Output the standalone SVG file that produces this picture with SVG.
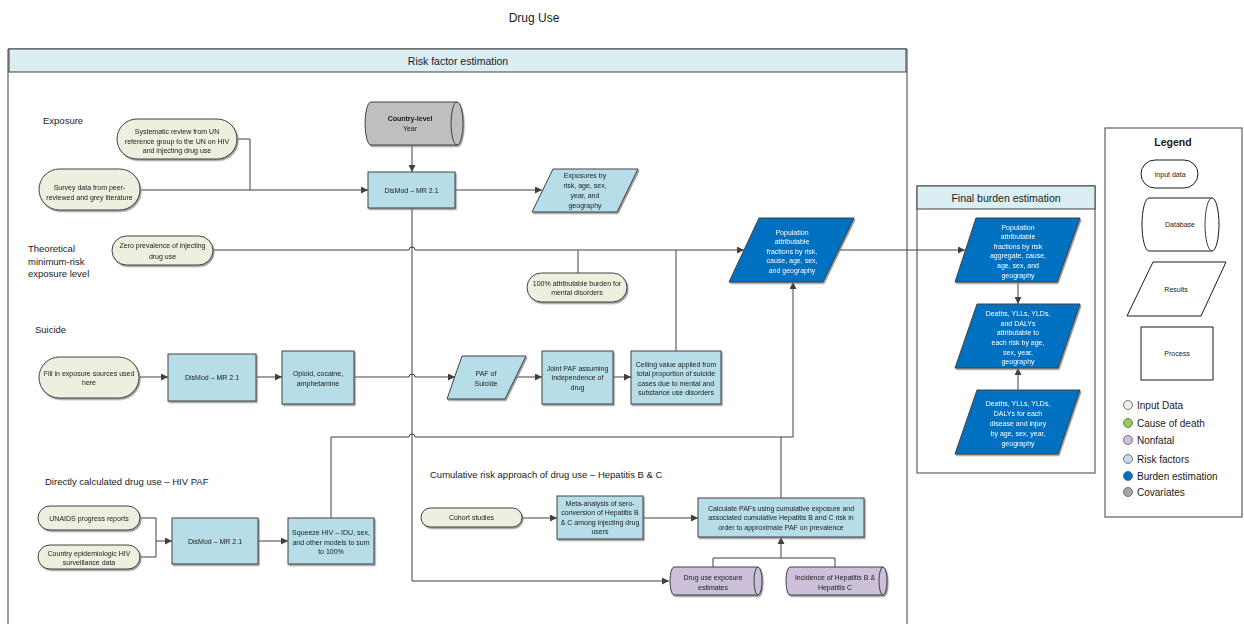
<svg xmlns="http://www.w3.org/2000/svg" width="1244" height="624" viewBox="0 0 1244 624">
  <style>
    .t { font-family: "Liberation Sans", Arial, sans-serif; font-size: 7px; text-anchor: middle; fill: #1a1a1a; }
    .tw { fill: #ffffff; }
    .b { font-weight: bold; }
    .lbl { font-family: "Liberation Sans", Arial, sans-serif; font-size: 9.5px; fill: #1a1a1a; }
    .hdr { font-family: "Liberation Sans", Arial, sans-serif; font-size: 10.5px; text-anchor: middle; fill: #1a1a1a; }
    .inp { fill: #ebf1de; stroke: #404040; stroke-width: 1; }
    .proc { fill: #b7dee8; stroke: #404040; stroke-width: 1; }
    .dark { fill: #0070c0; stroke: #404040; stroke-width: 1; }
    .gray { fill: #bfbfbf; stroke: #404040; stroke-width: 1; }
    .purp { fill: #ccc0da; stroke: #404040; stroke-width: 1; }
    .plain { fill: #ffffff; stroke: #1a1a1a; stroke-width: 1; }
    .conn { fill: none; stroke: #404040; stroke-width: 1; }
    .arr { marker-end: url(#ah); }
    .frame { fill: none; stroke: #404040; stroke-width: 1; }
    .band { fill: #daeef3; stroke: #404040; stroke-width: 1; }
  </style>
  <defs>
    <marker id="ah" markerUnits="userSpaceOnUse" markerWidth="8" markerHeight="7" refX="7" refY="3.5" orient="auto">
      <path d="M0,0 L7,3.5 L0,7 z" fill="#404040"/>
    </marker>
    <filter id="sh" x="-10%" y="-10%" width="130%" height="140%">
      <feDropShadow dx="1.2" dy="1.5" stdDeviation="0.5" flood-color="#808080" flood-opacity="0.8"/>
    </filter>
  </defs>

  <rect width="1244" height="624" fill="#ffffff"/>

  <!-- title -->
  <text x="534" y="22" font-family="Liberation Sans, Arial, sans-serif" font-size="12" text-anchor="middle" fill="#1a1a1a">Drug Use</text>

  <!-- risk factor estimation container -->
  <g id="risk-container">
    <path class="frame" d="M8,624 V49 H907 V624"/>
    <rect class="band" x="9" y="49" width="897" height="23"/>
    <text class="hdr" x="458" y="64.5">Risk factor estimation</text>
    <text class="lbl" x="43" y="123.5">Exposure</text>
    <text class="lbl" x="28" y="252">Theoretical</text>
    <text class="lbl" x="28" y="264.5">minimum-risk</text>
    <text class="lbl" x="28" y="277">exposure level</text>
    <text class="lbl" x="35" y="333">Suicide</text>
    <text class="lbl" x="45" y="485">Directly calculated drug use – HIV PAF</text>
    <text class="lbl" x="430" y="478">Cumulative risk approach of drug use – Hepatitis B &amp; C</text>
  </g>

  <!-- final burden container -->
  <g id="burden-container">
    <rect class="frame" x="917" y="186" width="178" height="287"/>
    <rect class="band" x="917" y="186" width="178" height="23"/>
    <text class="hdr" x="1006" y="202" font-size="11">Final burden estimation</text>
  </g>

  <!-- connectors -->
  <g id="connectors">
    <!-- exposure inputs into DisMod -->
    <path class="conn" d="M237,139 H250 V190"/>
    <path class="conn arr" d="M140,190 H368"/>
    <path class="conn arr" d="M412,145 V172"/>
    <path class="conn arr" d="M455,190 H542"/>
    <!-- DisMod output down to drug use exposure estimates -->
    <path class="conn arr" d="M412,208 V581 H669"/>
    <!-- theoretical minimum line into PAF -->
    <path class="conn arr" d="M213,250 H409 A3,3 0 0 1 415,250 H744"/>
    <path class="conn" d="M578,273 V250"/>
    <path class="conn" d="M676,351 V250"/>
    <!-- PAF to final burden -->
    <path class="conn arr" d="M838,250 H965"/>
    <!-- suicide row -->
    <path class="conn arr" d="M139,377 H168"/>
    <path class="conn arr" d="M256,377 H282"/>
    <path class="conn arr" d="M354,377 H409 A3,3 0 0 1 415,377 H455"/>
    <path class="conn arr" d="M516,377 H542"/>
    <path class="conn arr" d="M613,377 H631"/>
    <!-- HIV and hepatitis into PAF -->
    <path class="conn arr" d="M331,518 V437 H409 A3,3 0 0 1 415,437 H793 V282"/>
    <path class="conn" d="M781,498 V437"/>
    <!-- HIV inputs -->
    <path class="conn" d="M140,518 H156 V557 H140"/>
    <path class="conn arr" d="M156,541 H172"/>
    <path class="conn arr" d="M258,541 H288"/>
    <!-- hepatitis row -->
    <path class="conn arr" d="M522,518 H557"/>
    <path class="conn arr" d="M643,518 H698"/>
    <path class="conn" d="M713,567 V558 H835 V567"/>
    <path class="conn arr" d="M781,558 V537"/>
    <!-- final burden chain -->
    <path class="conn arr" d="M1018,282 V304"/>
    <path class="conn arr" d="M1018,390 V368"/>
  </g>

  <!-- exposure section -->
  <g id="systematic-review" filter="url(#sh)">
    <rect class="inp" x="117" y="119" width="120" height="40" rx="20"/>
    <text class="t" x="177" y="133.5">Systematic review from UN</text>
    <text class="t" x="177" y="143.5">reference group to the UN on HIV</text>
    <text class="t" x="177" y="152.5">and injecting drug use</text>
  </g>
  <g id="survey-data" filter="url(#sh)">
    <rect class="inp" x="39" y="169" width="101" height="41" rx="20.5"/>
    <text class="t" x="89.5" y="189.5">Survey data from peer-</text>
    <text class="t" x="89.5" y="199.5">reviewed and grey literature</text>
  </g>
  <g id="country-level" filter="url(#sh)">
    <path class="gray" d="M371,102 H457 A6,21.5 0 0 1 457,145 H371 A6,21.5 0 0 1 371,102 Z"/>
    <path class="conn" d="M457,102 A6,21.5 0 0 0 457,145"/>
    <text class="t b" x="410" y="120.5">Country-level</text>
    <text class="t" x="410" y="130.5">Year</text>
  </g>
  <g id="dismod-exposure" filter="url(#sh)">
    <rect class="proc" x="368" y="172" width="87" height="36"/>
    <text class="t" x="411.5" y="192.5">DisMod – MR 2.1</text>
  </g>
  <g id="exposures-result" filter="url(#sh)">
    <path class="proc" d="M553,169 H638 L617,212 H532 Z"/>
    <text class="t" x="585" y="177.5">Exposures by</text>
    <text class="t" x="585" y="187.5">risk, age, sex,</text>
    <text class="t" x="585" y="197.5">year, and</text>
    <text class="t" x="585" y="207.5">geography</text>
  </g>

  <!-- theoretical minimum -->
  <g id="zero-prevalence" filter="url(#sh)">
    <rect class="inp" x="112" y="236" width="101" height="29" rx="14.5"/>
    <text class="t" x="162.5" y="247.5">Zero prevalence of injecting</text>
    <text class="t" x="162.5" y="258.5">drug use</text>
  </g>
  <g id="attributable-burden" filter="url(#sh)">
    <rect class="inp" x="527" y="273" width="100" height="29" rx="14.5"/>
    <text class="t" x="577" y="285.5">100% attributable burden for</text>
    <text class="t" x="577" y="294.5">mental disorders</text>
  </g>
  <g id="paf-risk" filter="url(#sh)">
    <path class="dark" d="M759,218 H854 L823,282 H729 Z"/>
    <text class="t tw" x="792" y="234.5">Population</text>
    <text class="t tw" x="792" y="244">attributable</text>
    <text class="t tw" x="792" y="253.5">fractions by risk,</text>
    <text class="t tw" x="792" y="263">cause, age, sex,</text>
    <text class="t tw" x="792" y="272.5">and geography</text>
  </g>

  <!-- suicide section -->
  <g id="suicide-sources" filter="url(#sh)">
    <rect class="inp" x="39" y="357" width="100" height="41" rx="20.5"/>
    <text class="t" x="89" y="375.5">Fill in exposure sources used</text>
    <text class="t" x="89" y="384.5">here</text>
  </g>
  <g id="dismod-suicide" filter="url(#sh)">
    <rect class="proc" x="168" y="354" width="88" height="47"/>
    <text class="t" x="212" y="379.5">DisMod – MR 2.1</text>
  </g>
  <g id="opioid" filter="url(#sh)">
    <rect class="proc" x="282" y="351" width="72" height="53"/>
    <text class="t" x="318" y="375.5">Opioid, cocaine,</text>
    <text class="t" x="318" y="385.5">amphetamine</text>
  </g>
  <g id="paf-suicide" filter="url(#sh)">
    <path class="proc" d="M462,356 H526 L505,399 H447 Z"/>
    <text class="t" x="486" y="375.5">PAF of</text>
    <text class="t" x="486" y="385.5">Suicide</text>
  </g>
  <g id="joint-paf" filter="url(#sh)">
    <rect class="proc" x="542" y="351" width="71" height="53"/>
    <text class="t" x="577.5" y="370.5">Joint PAF assuming</text>
    <text class="t" x="577.5" y="379.5">independence of</text>
    <text class="t" x="577.5" y="389.5">drug</text>
  </g>
  <g id="ceiling" filter="url(#sh)">
    <rect class="proc" x="631" y="351" width="90" height="53"/>
    <text class="t" x="676" y="366.5">Ceiling value applied from</text>
    <text class="t" x="676" y="375.5">total proportion of suicide</text>
    <text class="t" x="676" y="385.5">cases due to mental and</text>
    <text class="t" x="676" y="394.5">substance use disorders</text>
  </g>

  <!-- HIV section -->
  <g id="unaids" filter="url(#sh)">
    <rect class="inp" x="38" y="506" width="102" height="24" rx="12"/>
    <text class="t" x="89" y="520.5">UNAIDS progress reports</text>
  </g>
  <g id="hiv-surveillance" filter="url(#sh)">
    <rect class="inp" x="38" y="545" width="102" height="24" rx="12"/>
    <text class="t" x="89" y="555.5">Country epidemiologic HIV</text>
    <text class="t" x="89" y="564.5">surveillance data</text>
  </g>
  <g id="dismod-hiv" filter="url(#sh)">
    <rect class="proc" x="172" y="518" width="86" height="46"/>
    <text class="t" x="215" y="543.5">DisMod – MR 2.1</text>
  </g>
  <g id="squeeze" filter="url(#sh)">
    <rect class="proc" x="288" y="518" width="86" height="46"/>
    <text class="t" x="331" y="534.5">Squeeze HIV – IDU, sex,</text>
    <text class="t" x="331" y="544.5">and other models to sum</text>
    <text class="t" x="331" y="553.5">to 100%</text>
  </g>

  <!-- hepatitis section -->
  <g id="cohort" filter="url(#sh)">
    <rect class="inp" x="421" y="508" width="101" height="19" rx="9.5"/>
    <text class="t" x="471.5" y="520">Cohort studies</text>
  </g>
  <g id="meta-analysis" filter="url(#sh)">
    <rect class="proc" x="557" y="496" width="86" height="43"/>
    <text class="t" x="600" y="506">Meta-analysis of sero-</text>
    <text class="t" x="600" y="515">conversion of Hepatitis B</text>
    <text class="t" x="600" y="525">&amp; C among injecting drug</text>
    <text class="t" x="600" y="534">users</text>
  </g>
  <g id="calculate-pafs" filter="url(#sh)">
    <rect class="proc" x="698" y="498" width="166" height="39"/>
    <text class="t" x="781" y="510.5">Calculate PAFs using cumulative exposure and</text>
    <text class="t" x="781" y="520">associated cumulative Hepatitis B and C risk in</text>
    <text class="t" x="781" y="530">order to approximate PAF on prevalence</text>
  </g>
  <g id="drug-use-exposure" filter="url(#sh)">
    <path class="purp" d="M674,567 H758 A4,14 0 0 1 758,595 H674 A4,14 0 0 1 674,567 Z"/>
    <path class="conn" d="M758,567 A4,14 0 0 0 758,595"/>
    <text class="t" x="713" y="579.5">Drug use  exposure</text>
    <text class="t" x="713" y="589.5">estimates</text>
  </g>
  <g id="hepatitis-incidence" filter="url(#sh)">
    <path class="purp" d="M790,567 H883 A4,14 0 0 1 883,595 H790 A4,14 0 0 1 790,567 Z"/>
    <path class="conn" d="M883,567 A4,14 0 0 0 883,595"/>
    <text class="t" x="835" y="579.5">Incidence of Hepatitis B &amp;</text>
    <text class="t" x="835" y="589.5">Hepatitis C</text>
  </g>

  <!-- final burden estimation -->
  <g id="paf-aggregate" filter="url(#sh)">
    <path class="dark" d="M976,218 H1080 L1057,282 H955 Z"/>
    <text class="t tw" x="1018" y="229.5">Population</text>
    <text class="t tw" x="1018" y="238.5">attributable</text>
    <text class="t tw" x="1018" y="248.5">fractions by risk</text>
    <text class="t tw" x="1018" y="258">aggregate, cause,</text>
    <text class="t tw" x="1018" y="267.5">age, sex, and</text>
    <text class="t tw" x="1018" y="277.5">geography</text>
  </g>
  <g id="attributable-burden-results" filter="url(#sh)">
    <path class="dark" d="M977,304 H1080 L1058,368 H955 Z"/>
    <text class="t tw" x="1018" y="315.5">Deaths, YLLs, YLDs,</text>
    <text class="t tw" x="1018" y="325.5">and DALYs</text>
    <text class="t tw" x="1018" y="334.5">attributable to</text>
    <text class="t tw" x="1018" y="344.5">each risk by age,</text>
    <text class="t tw" x="1018" y="354.5">sex, year,</text>
    <text class="t tw" x="1018" y="364">geography</text>
  </g>
  <g id="disease-burden" filter="url(#sh)">
    <path class="dark" d="M977,390 H1080 L1058,454 H955 Z"/>
    <text class="t tw" x="1018" y="405.5">Deaths, YLLs, YLDs,</text>
    <text class="t tw" x="1018" y="415.5">DALYs for each</text>
    <text class="t tw" x="1018" y="425.5">disease and injury</text>
    <text class="t tw" x="1018" y="435.5">by age, sex, year,</text>
    <text class="t tw" x="1018" y="445.5">geography</text>
  </g>

  <!-- legend -->
  <g id="legend">
    <rect x="1105" y="128" width="137" height="389" fill="#ffffff" stroke="#404040" stroke-width="1"/>
    <text class="hdr b" x="1173" y="145.5">Legend</text>
    <rect class="plain" x="1141" y="160" width="57" height="28" rx="14"/>
    <text class="t" x="1170" y="176.5" font-size="6.5">Input data</text>
    <path class="plain" d="M1149,198 H1212 A7,26.5 0 0 1 1212,251 H1149 A7,26.5 0 0 1 1149,198 Z"/>
    <path class="conn" stroke="#1a1a1a" d="M1212,198 A7,26.5 0 0 0 1212,251"/>
    <text class="t" x="1180" y="226.5" font-size="6.5">Database</text>
    <path class="plain" d="M1153,262 H1226 L1201,316 H1127 Z"/>
    <text class="t" x="1176" y="291.5" font-size="6.5">Results</text>
    <rect class="plain" x="1141" y="327" width="72" height="53"/>
    <text class="t" x="1177" y="355.5" font-size="6.5">Process</text>
    <g font-family="Liberation Sans, Arial, sans-serif" font-size="10" fill="#1a1a1a">
      <circle cx="1128" cy="405" r="4.5" fill="#ebf1de" stroke="#595959" stroke-width="0.8"/>
      <text x="1137" y="408.5">Input Data</text>
      <circle cx="1128" cy="423" r="4.5" fill="#92d050" stroke="#595959" stroke-width="0.8"/>
      <text x="1137" y="426.5">Cause of death</text>
      <circle cx="1128" cy="440" r="4.5" fill="#ccc0da" stroke="#595959" stroke-width="0.8"/>
      <text x="1137" y="443.5">Nonfatal</text>
      <circle cx="1128" cy="459" r="4.5" fill="#c5d9f1" stroke="#595959" stroke-width="0.8"/>
      <text x="1137" y="462.5">Risk factors</text>
      <circle cx="1128" cy="476" r="4.5" fill="#0070c0" stroke="#595959" stroke-width="0.8"/>
      <text x="1137" y="479.5">Burden estimation</text>
      <circle cx="1128" cy="492" r="4.5" fill="#a6a6a6" stroke="#595959" stroke-width="0.8"/>
      <text x="1137" y="495.5">Covariates</text>
    </g>
  </g>
</svg>
